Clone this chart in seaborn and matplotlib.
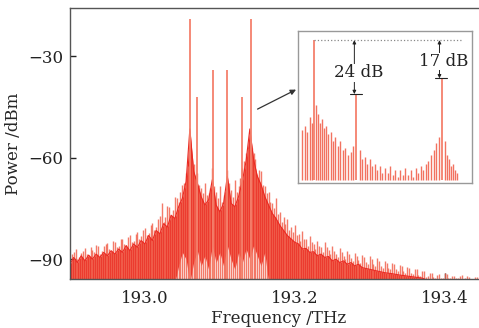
import numpy as np
import matplotlib
matplotlib.use("Agg")
import matplotlib.pyplot as plt
import seaborn as sns

# ---- main spectrum: dense noise core ----
core_freq = [192.900, 192.905, 192.910, 192.915, 192.920, 192.925, 192.930, 192.935, 192.940, 192.945,
             192.950, 192.955, 192.960, 192.965, 192.970, 192.975, 192.980, 192.985, 192.990, 192.995,
             193.000, 193.005, 193.010, 193.015, 193.020, 193.025, 193.030, 193.035, 193.040, 193.045,
             193.050, 193.055, 193.060, 193.065, 193.070, 193.075, 193.080, 193.085, 193.090, 193.095,
             193.100, 193.105, 193.110, 193.115, 193.120, 193.125, 193.130, 193.135, 193.140, 193.145,
             193.150, 193.155, 193.160, 193.165, 193.170, 193.175, 193.180, 193.185, 193.190, 193.195,
             193.200, 193.205, 193.210, 193.215, 193.220, 193.225, 193.230, 193.235, 193.240, 193.245,
             193.250, 193.255, 193.260, 193.265, 193.270, 193.275, 193.280, 193.285, 193.290, 193.300,
             193.310, 193.320, 193.330, 193.340, 193.350, 193.360, 193.370, 193.380, 193.460]
core_dbm = [-91.5, -89.5, -91.0, -89.0, -90.5, -88.8, -90.0, -88.5, -89.5, -88.0,
            -89.0, -87.5, -88.5, -87.0, -88.0, -86.0, -87.5, -85.5, -86.5, -84.5,
            -85.5, -83.0, -84.5, -81.5, -82.5, -79.5, -80.5, -77.0, -78.0, -74.5,
            -72.0, -67.0, -51.5, -64.0, -67.5, -71.5, -74.0, -72.5, -66.5, -74.0,
            -76.0, -73.5, -65.5, -73.5, -74.5, -71.5, -67.0, -61.0, -51.5, -60.5,
            -65.5, -68.0, -71.5, -74.0, -76.5, -78.0, -80.0, -81.5, -83.0, -84.0,
            -85.0, -85.5, -87.0, -86.8, -88.0, -87.8, -89.0, -88.5, -89.5, -89.2,
            -90.5, -90.0, -91.0, -90.5, -91.5, -91.0, -92.0, -91.5, -92.5, -93.0,
            -93.5, -94.0, -94.3, -94.7, -95.0, -95.3, -95.6, -96.5, -97.0]
# lower edge of the dense core (deep dips between the lines near the centre)
core_low = [-97.0, -97.0, -97.0, -97.0, -97.0, -97.0, -97.0, -97.0, -97.0, -97.0,
            -97.0, -97.0, -97.0, -97.0, -97.0, -97.0, -97.0, -97.0, -97.0, -97.0,
            -97.0, -97.0, -97.0, -97.0, -97.0, -97.0, -97.0, -97.0, -97.0, -92.0,
            -88.0, -90.0, -97.0, -91.0, -87.5, -92.0, -89.0, -93.0, -86.0, -91.0,
            -88.0, -92.0, -86.0, -90.0, -93.0, -88.0, -91.0, -87.0, -90.0, -86.0,
            -89.0, -92.0, -88.0, -97.0, -97.0, -97.0, -97.0, -97.0, -97.0, -97.0,
            -97.0, -97.0, -97.0, -97.0, -97.0, -97.0, -97.0, -97.0, -97.0, -97.0,
            -97.0, -97.0, -97.0, -97.0, -97.0, -97.0, -97.0, -97.0, -97.0, -97.0,
            -97.0, -97.0, -97.0, -97.0, -97.0, -97.0, -97.0, -97.0, -97.0]

# ---- main spectrum: spike tips (two interleaved sets) ----
spike_freq = [192.9025, 192.9075, 192.9125, 192.9175, 192.9225, 192.9275, 192.9325, 192.9375, 192.9425, 192.9475,
              192.9525, 192.9575, 192.9625, 192.9675, 192.9725, 192.9775, 192.9825, 192.9875, 192.9925, 192.9975,
              193.0025, 193.0075, 193.0125, 193.0175, 193.0225, 193.0275, 193.0325, 193.0375, 193.0425, 193.0475,
              193.0525, 193.0575, 193.0625, 193.0675, 193.0725, 193.0775, 193.0825, 193.0875, 193.0925, 193.0975,
              193.1025, 193.1075, 193.1125, 193.1175, 193.1225, 193.1275, 193.1325, 193.1375, 193.1425, 193.1475,
              193.1525, 193.1575, 193.1625, 193.1675, 193.1725, 193.1775, 193.1825, 193.1875, 193.1925, 193.1975,
              193.2025, 193.2075, 193.2125, 193.2175, 193.2225, 193.2275, 193.2325, 193.2375, 193.2425, 193.2475,
              193.2525, 193.2575, 193.2625, 193.2675, 193.2725, 193.2775, 193.2825, 193.2875, 193.2925, 193.2975,
              193.3025, 193.3075, 193.3125, 193.3175, 193.3225, 193.3275, 193.3325, 193.3375, 193.3425, 193.3475,
              193.3525, 193.3575, 193.3625, 193.3675, 193.3725, 193.3775, 193.3825, 193.3875, 193.3925, 193.3975,
              193.4025, 193.4075, 193.4125, 193.4175, 193.4225, 193.4275, 193.4325, 193.4375, 193.4425, 193.4475,
              193.4525]
spike_dbm = [-88.5, -87.0, -89.5, -87.5, -88.5, -86.5, -88.0, -86.0, -87.5, -85.5,
             -87.0, -84.5, -86.5, -84.0, -85.5, -83.5, -85.0, -82.5, -84.0, -81.5,
             -83.0, -80.0, -81.5, -78.0, -73.5, -77.5, -74.5, -75.5, -72.0, -70.0,
             -67.5, -62.5, -60.0, -66.0, -68.0, -70.5, -71.0, -69.0, -68.5, -72.0,
             -73.0, -70.0, -67.5, -71.5, -70.0, -66.0, -61.0, -57.0, -57.0, -60.5,
             -63.5, -68.0, -70.5, -73.0, -75.0, -76.5, -79.0, -79.5, -81.5, -82.0,
             -83.0, -84.5, -84.0, -86.0, -85.0, -87.0, -86.0, -88.0, -86.5, -88.5,
             -87.5, -89.5, -88.0, -90.0, -88.5, -90.5, -89.0, -91.0, -89.5, -91.5,
             -90.0, -92.0, -90.5, -92.5, -91.0, -93.0, -91.5, -93.5, -92.0, -94.0,
             -92.5, -94.5, -93.0, -95.0, -93.5, -95.0, -94.0, -95.5, -94.5, -95.5,
             -94.5, -95.5, -95.0, -95.5, -94.8, -95.5, -95.2, -95.8, -95.3, -95.8,
             -95.4]
spike2_freq = [192.905, 192.910, 192.915, 192.920, 192.925, 192.930, 192.935, 192.940, 192.945, 192.950,
               192.955, 192.960, 192.965, 192.970, 192.975, 192.980, 192.985, 192.990, 192.995, 193.000,
               193.005, 193.010, 193.015, 193.020, 193.025, 193.030, 193.035, 193.040, 193.045, 193.050,
               193.055, 193.060, 193.065, 193.070, 193.075, 193.080, 193.085, 193.090, 193.095, 193.100,
               193.105, 193.110, 193.115, 193.120, 193.125, 193.130, 193.135, 193.140, 193.145, 193.150,
               193.155, 193.160, 193.165, 193.170, 193.175, 193.180, 193.185, 193.190, 193.195, 193.200,
               193.205, 193.210, 193.215, 193.220, 193.225, 193.230, 193.235, 193.240, 193.245, 193.250,
               193.255, 193.260, 193.265, 193.270, 193.275, 193.280, 193.285, 193.290, 193.295, 193.300,
               193.305, 193.310, 193.315, 193.320, 193.325, 193.330, 193.335, 193.340, 193.345, 193.350,
               193.355, 193.360, 193.365, 193.370, 193.375, 193.380, 193.385, 193.390, 193.395, 193.400,
               193.405, 193.410, 193.415, 193.420, 193.425, 193.430, 193.435, 193.440, 193.445, 193.450]
spike2_dbm = [-87.8, -90.0, -88.2, -86.8, -89.0, -87.2, -85.8, -88.4, -86.0, -85.2,
              -87.6, -84.8, -86.2, -83.9, -85.7, -82.8, -84.6, -81.9, -83.2, -80.8,
              -82.4, -79.2, -80.5, -77.3, -79.0, -74.2, -76.8, -71.5, -73.2, -68.0,
              -64.5, -58.0, -62.0, -64.5, -69.0, -67.5, -70.5, -63.0, -70.0, -68.5,
              -71.0, -63.5, -69.5, -66.5, -68.5, -63.0, -58.5, -55.0, -58.5, -65.0,
              -64.0, -68.5, -70.0, -73.5, -72.0, -76.0, -77.5, -78.0, -80.5, -80.0,
              -82.5, -81.8, -84.0, -83.2, -85.5, -84.5, -86.5, -85.0, -87.2, -86.2,
              -88.5, -86.8, -89.0, -87.5, -89.8, -88.2, -90.2, -88.8, -90.8, -89.2,
              -91.5, -89.8, -92.0, -90.5, -92.5, -91.2, -93.0, -91.8, -93.6, -92.2,
              -94.2, -93.0, -94.8, -93.4, -95.2, -94.0, -95.4, -94.6, -95.6, -94.2,
              -95.7, -94.9, -95.7, -95.1, -95.8, -95.0, -95.8, -95.4, -95.8, -95.2]

# ---- laser lines ----
line_freq = [193.060, 193.070, 193.091, 193.110, 193.130, 193.141]
line_dbm = [-19.0, -42.0, -34.0, -34.0, -42.0, -19.0]

# ---- inset (relative frequency units, peak 1 at 0) ----
inset_line_pos = [0.0, 1.0, 3.0]
inset_line_dbm = [-19.0, -43.0, -36.0]
inset_noise_pos = [-0.28, -0.22, -0.16, -0.10, -0.05, 0.05, 0.09, 0.14, 0.19, 0.24,
                   0.29, 0.34, 0.40, 0.45, 0.50, 0.56, 0.62, 0.68, 0.74, 0.80,
                   0.86, 0.92, 1.08, 1.13, 1.19, 1.25, 1.31, 1.37, 1.43, 1.49,
                   1.55, 1.61, 1.67, 1.73, 1.79, 1.85, 1.91, 1.97, 2.03, 2.09,
                   2.15, 2.21, 2.27, 2.33, 2.39, 2.45, 2.51, 2.57, 2.63, 2.69,
                   2.75, 2.81, 2.87, 2.93, 3.07, 3.12, 3.17, 3.22, 3.27, 3.32, 3.37]
inset_noise_dbm = [-59, -57, -60, -53, -56, -48, -52, -56, -54, -58,
                   -57, -61, -60, -64, -62, -66, -64, -68, -67, -70,
                   -69, -66, -68, -72, -71, -74, -72, -75, -74, -77,
                   -75, -78, -76, -78, -75, -79, -77, -80, -77, -79,
                   -76, -79, -77, -80, -76, -78, -75, -77, -74, -73,
                   -70, -68, -65, -62, -64, -70, -72, -75, -74, -77, -78]
diff_labels = ["24 dB", "17 dB"]
diff_label_y = [-33.5, -28.5]

sns.set_style("ticks")
plt.rcParams['font.family'] = ['DejaVu Serif']

core_red = '#ea2a22'
spike_red = '#f1634f'
line_red = '#f4806c'
ymin = -97.0

fig = plt.figure(figsize=(4.79, 3.28), dpi=100)
ax = fig.add_axes([0.146, 0.149, 0.87, 0.826])

ax.vlines(spike_freq, ymin, spike_dbm, color=spike_red, lw=1.0, alpha=0.85)
ax.vlines(spike2_freq, ymin, spike2_dbm, color=spike_red, lw=1.0, alpha=0.85)
ax.fill_between(core_freq, core_low, core_dbm, color=core_red, lw=0)
sns.lineplot(x=core_freq, y=core_dbm, ax=ax, color=core_red, lw=0.8)
ax.vlines(line_freq, ymin, line_dbm, color=line_red, lw=1.3)

ax.annotate('', xy=(193.205, -39.5), xytext=(193.147, -46.0),
            arrowprops=dict(arrowstyle='-|>', color='#333333', lw=0.9, mutation_scale=8))

ax.set_xlim(192.9, 193.456)
ax.set_ylim(-95.9, -15.8)
ax.set_xticks([193.0, 193.2, 193.4])
ax.set_xticklabels(['193.0', '193.2', '193.4'])
ax.set_yticks([-30, -60, -90])
ax.tick_params(direction='in', length=4, width=1, labelsize=12, colors='#222222', pad=5)
ax.tick_params(axis='x', pad=8)
ax.set_xlabel('Frequency /THz', fontsize=12, labelpad=2)
ax.set_ylabel('Power /dBm', fontsize=12, labelpad=4)
for s in ax.spines.values():
    s.set_color('#555555')
    s.set_linewidth(1.0)

# inset
ins = fig.add_axes([0.622, 0.442, 0.363, 0.463])
ifloor = -81.2
ins.vlines(inset_noise_pos, ifloor, inset_noise_dbm, color=spike_red, lw=1.0, alpha=0.9)
ins.vlines(inset_line_pos, ifloor, inset_line_dbm, color=line_red, lw=1.3)
ins.plot([0.0, 3.47], [-19.0, -19.0], ls=':', color='#888888', lw=0.9)
ins.set_xlim(-0.376, 3.71)
ins.set_ylim(-82.6, -15.0)
ins.set_xticks([])
ins.set_yticks([])
for s in ins.spines.values():
    s.set_color('#999999')
    s.set_linewidth(1.0)

for pos, top, lab, ly in zip(inset_line_pos[1:], inset_line_dbm[1:], diff_labels, diff_label_y):
    ins.annotate('', xy=(pos - 0.05, -19.0), xytext=(pos - 0.05, top),
                 arrowprops=dict(arrowstyle='<|-|>', color='#222222', lw=0.7, mutation_scale=5,
                                 shrinkA=0, shrinkB=0))
    ins.plot([pos - 0.16, pos + 0.12], [top, top], color='#222222', lw=0.8)
    ins.text(pos + 0.06, ly, lab, ha='center', va='center', fontsize=12, color='#222222',
             bbox=dict(facecolor='white', edgecolor='none', pad=0.2))

fig.savefig('out.png', dpi=100)
